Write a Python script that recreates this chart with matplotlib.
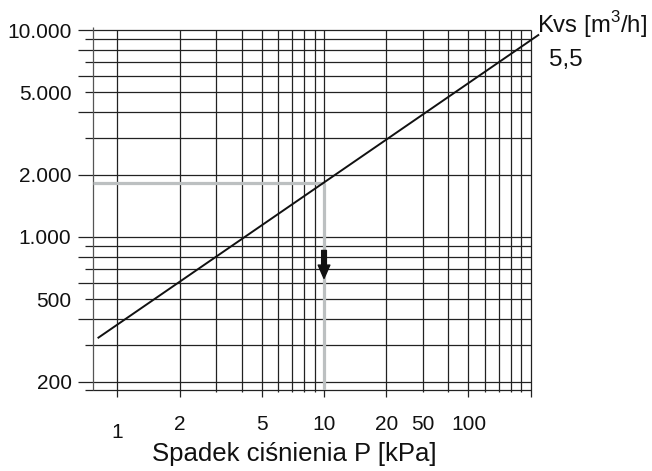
import numpy as np
import matplotlib
matplotlib.use('Agg')
import matplotlib.pyplot as plt
import matplotlib.transforms as mtrans

plt.rcParams['font.family'] = ['Liberation Sans', 'DejaVu Sans']
plt.rcParams['mathtext.fontset'] = 'custom'
plt.rcParams['mathtext.rm'] = 'Liberation Sans'

# Grid of the nomogram (log-log):
x_grid = [1, 2, 3, 4, 5, 6, 7, 8, 9, 10, 20, 30, 40, 50, 60, 70, 80, 90, 100]
x_major = [1, 2, 5, 10, 20, 50, 100]
y_grid = [200, 300, 400, 500, 600, 700, 800, 900,
          1000, 2000, 3000, 4000, 5000, 6000, 7000, 8000, 9000, 10000]
y_long = [1, 2, 4, 6, 8]   # mantissas whose grid lines stick out further left

# Tick labels, as printed on the chart:
x_tick_pos = [1, 2, 5, 10, 20, 30, 50]
x_tick_lab = ['1', '2', '5', '10', '20', '50', '100']
y_tick_pos = [200, 500, 1000, 2000, 5000, 10000]
y_tick_lab = ['200', '500', '1.000', '2.000', '5.000', '10.000']

# Kvs = 5.5 characteristic line (end points):
kvs_p = [0.81, 108.8]
kvs_q = [326, 9450]

# Example reading:
read_p = 10
read_q = 1820
arrow_q = [860, 630]

xlim = (0.765, 100)
ylim = (182, 10000)
gc = '#222222'
glw = 0.9
fs = 15

fig = plt.figure(0, (6.52, 4.71), dpi=100)
ax = fig.add_axes([93.3/652, 1-390/471, 437.4/652, 360/471])
ax.set_xscale('log')
ax.set_yscale('log')
ax.set_xlim(xlim)
ax.set_ylim(ylim)
for s in ax.spines.values():
    s.set_visible(False)
ax.set_xticks([])
ax.set_yticks([])
ax.minorticks_off()

# Horizontal grid lines (alternate lengths to the left):
ytr = ax.get_yaxis_transform()
for y in y_grid + [ylim[0]]:
    mant = int(round(y / 10**np.floor(np.log10(y))))
    x0 = -15/437.4 if (mant in y_long and y != ylim[0]) else -8/437.4
    ax.plot([x0, 1], [y, y], transform=ytr, c=gc, lw=glw,
            clip_on=False, solid_capstyle='butt')

# Vertical grid lines (majors stick out further below):
xtr = ax.get_xaxis_transform()
for x in x_grid:
    y0 = -7/360 if x in x_major else -2/360
    ax.plot([x, x], [y0, 1], transform=xtr, c=gc, lw=glw,
            clip_on=False, solid_capstyle='butt')
ax.plot([xlim[0], xlim[0]], [0, 1.007], transform=xtr, c='#555555', lw=glw,
        clip_on=False, solid_capstyle='butt')

# Reading lines:
ax.plot([xlim[0], read_p], [read_q, read_q], c='#bcc0c1', lw=2.3,
        solid_capstyle='butt', zorder=3)
ax.plot([read_p, read_p], [read_q, ylim[0]], c='#bcc0c1', lw=2.3,
        solid_capstyle='butt', zorder=3)
ax.annotate('', xy=(read_p, arrow_q[1]), xytext=(read_p, arrow_q[0]),
            arrowprops=dict(width=3.4, headwidth=8.4, headlength=9.6,
                            shrink=0, color='#111111'), zorder=5)

# Kvs line:
ax.plot(kvs_p, kvs_q, c='#111111', lw=1.4, clip_on=False, zorder=4)

# Tick labels:
ylab_tr = mtrans.offset_copy(ytr, fig=fig, x=0, y=-2, units='dots')
for y, lab in zip(y_tick_pos, y_tick_lab):
    ax.text(-21.8/437.4, y, lab, transform=ylab_tr, ha='right', va='center',
            fontsize=fs, color='#111111')
for x, lab in zip(x_tick_pos, x_tick_lab):
    yy = -42.5/360 if lab == '1' else -34/360
    ax.text(x, yy, lab, transform=xtr, ha='center', va='center',
            fontsize=fs, color='#111111')

fig.text(294/652, 1-454/471, 'Spadek ciśnienia P [kPa]', ha='center',
         va='center', fontsize=18.5, color='#111111')
fig.text(537/652, 1-33.3/471, 'Kvs [m$^{3}$/h]', ha='left', va='baseline',
         fontsize=17.2, color='#111111')
fig.text(549/652, 1-66/471, '5,5', ha='left', va='baseline',
         fontsize=17.5, color='#111111')

plt.savefig('out.png', dpi=100)
